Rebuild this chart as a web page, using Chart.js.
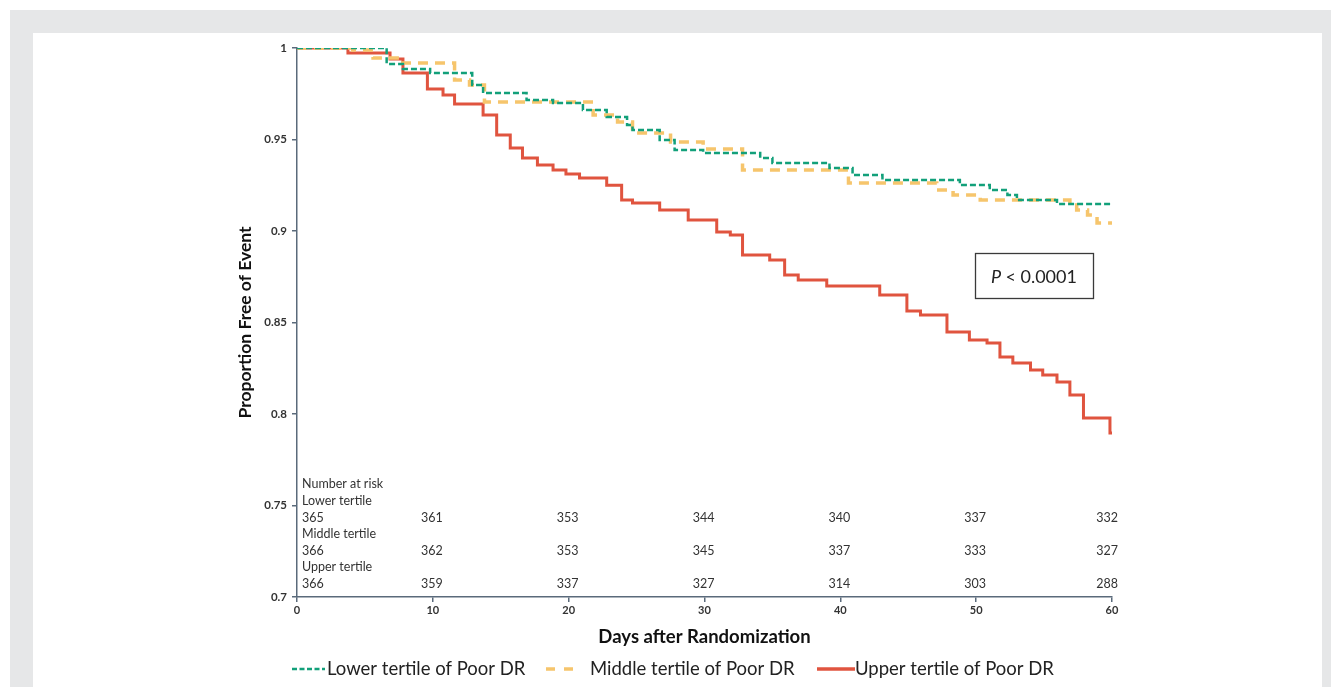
<!DOCTYPE html>
<html><head><meta charset="utf-8">
<script src="https://cdn.jsdelivr.net/npm/chart.js@4/dist/chart.umd.min.js"></script>
<style>
html,body{margin:0;padding:0;width:1331px;height:687px;overflow:hidden;background:#fff;}
#bg{position:absolute;left:10px;top:10px;width:1321px;height:677px;background:#e6e7e8;}
#panel{position:absolute;left:33px;top:33px;width:1289px;height:654px;background:#fff;}
#wrap{position:absolute;left:0;top:0;width:1331px;height:687px;}
</style></head><body>
<div id="bg"></div><div id="panel"></div>
<div id="wrap"><canvas id="c" width="1331" height="687"></canvas></div>
<script>
// ---- data ----
const lowerDays = [0, 6.6, 7.8, 9.8, 12.9, 13.7, 16.9, 18.85, 21.05, 22.8, 24.3, 24.7, 26.7, 27.8, 29.9, 34.1, 35.0, 39.2, 40.9, 43.1, 48.8, 51.0, 52.3, 53.0, 55.95, 60];
const lowerSurv = [1, 0.9913, 0.9885, 0.9863, 0.9798, 0.9754, 0.9716, 0.97, 0.9661, 0.9623, 0.9579, 0.9552, 0.9497, 0.9443, 0.9426, 0.9399, 0.9372, 0.9344, 0.9306, 0.9279, 0.9251, 0.9224, 0.9197, 0.9169, 0.9148, 0.9148];

const middleDays = [0, 4.1, 5.6, 7.6, 11.6, 12.7, 13.8, 21.8, 23.6, 24.7, 27.5, 29.9, 32.8, 40.6, 47.1, 48.3, 50.3, 56.9, 57.4, 58.2, 58.9, 60];
const middleSurv = [1, 0.9989, 0.9945, 0.9918, 0.9825, 0.9798, 0.9705, 0.9634, 0.9596, 0.9536, 0.9486, 0.9448, 0.9333, 0.9262, 0.9224, 0.9197, 0.9169, 0.9142, 0.9115, 0.9087, 0.9044, 0.9044];

const upperDays = [0, 3.75, 6.85, 7.8, 9.6, 10.75, 11.6, 13.7, 14.7, 15.7, 16.6, 17.7, 18.85, 19.8, 20.8, 22.8, 23.9, 24.7, 26.7, 28.8, 30.9, 31.9, 32.8, 34.8, 35.9, 36.9, 39.0, 42.9, 44.9, 45.9, 47.85, 49.5, 50.8, 51.75, 52.7, 54.0, 54.9, 55.95, 56.9, 57.9, 59.85, 60];
const upperSurv = [1, 0.9973, 0.994, 0.9863, 0.9776, 0.9743, 0.9694, 0.9634, 0.9525, 0.9454, 0.9399, 0.9361, 0.9333, 0.9311, 0.929, 0.925, 0.917, 0.9153, 0.9115, 0.906, 0.8995, 0.8978, 0.8869, 0.8842, 0.876, 0.8732, 0.87, 0.865, 0.8563, 0.8541, 0.8448, 0.8404, 0.8388, 0.8311, 0.8279, 0.824, 0.8213, 0.8175, 0.8104, 0.7978, 0.7896, 0.7896];

const seriesNames = ['Lower tertile of Poor DR', 'Middle tertile of Poor DR', 'Upper tertile of Poor DR'];
const riskDays = [0, 10, 20, 30, 40, 50, 60];
const riskLower = [365, 361, 353, 344, 340, 337, 332];
const riskMiddle = [366, 362, 353, 345, 337, 333, 327];
const riskUpper = [366, 359, 337, 327, 314, 303, 288];
const riskRowLabels = ['Lower tertile', 'Middle tertile', 'Upper tertile'];
const pText = '< 0.0001';

// ---- styles ----
const FONT = 'Lato, "Open Sans", sans-serif';
const C_GREEN = '#12a07a', C_YELLOW = '#f6c56c', C_RED = '#e0543f';
const AXIS = '#5a6a7b';
const toXY = (d, v) => d.map((x, i) => ({x: x, y: v[i]}));

const annot = {
  id: 'annot',
  afterDraw(chart) {
    const ctx = chart.ctx, xs = chart.scales.x, ca = chart.chartArea;
    ctx.save();
    // number at risk table
    ctx.fillStyle = '#333';
    ctx.font = '12.5px ' + FONT;
    ctx.textBaseline = 'middle';
    const b = ca.bottom;
    ctx.textAlign = 'left';
    ctx.fillText('Number at risk', ca.left + 5, b - 113);
    const rows = [riskLower, riskMiddle, riskUpper];
    rows.forEach((r, k) => {
      const yl = b - 96 + k * 33, yn = yl + 17;
      ctx.textAlign = 'left';
      ctx.fillText(riskRowLabels[k], ca.left + 5, yl);
      r.forEach((n, i) => {
        const px = xs.getPixelForValue(riskDays[i]);
        if (i === 0) { ctx.textAlign = 'left'; ctx.fillText(String(n), px + 5, yn); }
        else if (i === r.length - 1) { ctx.textAlign = 'right'; ctx.fillText(String(n), px + 6, yn); }
        else { ctx.textAlign = 'center'; ctx.fillText(String(n), px - 1, yn); }
      });
    });
    // P value box
    ctx.strokeStyle = '#3a3a3a'; ctx.lineWidth = 1.3;
    ctx.strokeRect(975.5, 253.5, 118, 45);
    ctx.fillStyle = '#222';
    ctx.font = 'italic 18px ' + FONT;
    const wP = ctx.measureText('P ').width;
    ctx.font = '18px ' + FONT;
    const wR = ctx.measureText(pText).width;
    let sx = 1034 - (wP + wR) / 2;
    ctx.textAlign = 'left';
    ctx.font = 'italic 18px ' + FONT;
    ctx.fillText('P ', sx, 277);
    ctx.font = '18px ' + FONT;
    ctx.fillText(pText, sx + wP, 277);
    // legend
    const ly = 669;
    ctx.font = '18.5px ' + FONT;
    ctx.fillStyle = '#222';
    const items = [
      {x0: 292, x1: 325, tx: 327, c: C_GREEN, w: 2.5, dash: [5, 2.5]},
      {x0: 546, x1: 580, tx: 590, c: C_YELLOW, w: 3.5, dash: [9, 9]},
      {x0: 817, x1: 855, tx: 855, c: C_RED, w: 3.5, dash: []}
    ];
    items.forEach((it, i) => {
      ctx.strokeStyle = it.c; ctx.lineWidth = it.w; ctx.setLineDash(it.dash);
      ctx.beginPath(); ctx.moveTo(it.x0, ly); ctx.lineTo(it.x1, ly); ctx.stroke();
      ctx.setLineDash([]);
      ctx.textAlign = 'left';
      ctx.fillText(seriesNames[i], it.tx, ly);
    });
    ctx.restore();
  }
};

new Chart(document.getElementById('c'), {
  type: 'line',
  data: {
    datasets: [
      {label: seriesNames[0], data: toXY(lowerDays, lowerSurv), borderColor: C_GREEN, borderWidth: 2.5, borderDash: [6, 3], stepped: 'before', pointRadius: 0, fill: false},
      {label: seriesNames[1], data: toXY(middleDays, middleSurv), borderColor: C_YELLOW, borderWidth: 3.5, borderDash: [10, 7], stepped: 'before', pointRadius: 0, fill: false},
      {label: seriesNames[2], data: toXY(upperDays, upperSurv), borderColor: C_RED, borderWidth: 3, stepped: 'before', pointRadius: 0, fill: false}
    ]
  },
  options: {
    responsive: false, animation: false,
    layout: {padding: {left: 232, right: 219, top: 48, bottom: 37}},
    plugins: {legend: {display: false}, tooltip: {enabled: false}},
    scales: {
      x: {
        type: 'linear', min: 0, max: 60,
        ticks: {stepSize: 10, color: '#333', padding: 2, maxRotation: 0, font: {family: FONT, size: 11, weight: 'bold'}},
        grid: {drawOnChartArea: false, drawTicks: true, tickLength: 5, color: AXIS, lineWidth: 1.5},
        border: {color: AXIS, width: 1.5},
        title: {display: true, text: 'Days after Randomization', color: '#111', font: {family: FONT, size: 18.5, weight: 'bold'}, padding: {top: 0, bottom: 2}},
        afterFit: s => { s.height = 53; }
      },
      y: {
        type: 'linear', min: 0.7, max: 1,
        ticks: {stepSize: 0.05, color: '#333', padding: 5, font: {family: FONT, size: 11.5, weight: 'bold'},
          callback: v => String(Number(v.toFixed(2)))},
        grid: {drawOnChartArea: false, drawTicks: true, tickLength: 5, color: AXIS, lineWidth: 1.5},
        border: {color: AXIS, width: 1.5},
        title: {display: true, text: 'Proportion Free of Event', color: '#111', font: {family: FONT, size: 17.5, weight: 'bold'}, padding: {top: 3, bottom: 3}},
        afterFit: s => { s.width = 65; }
      }
    }
  },
  plugins: [annot]
});
</script>
</body></html>
